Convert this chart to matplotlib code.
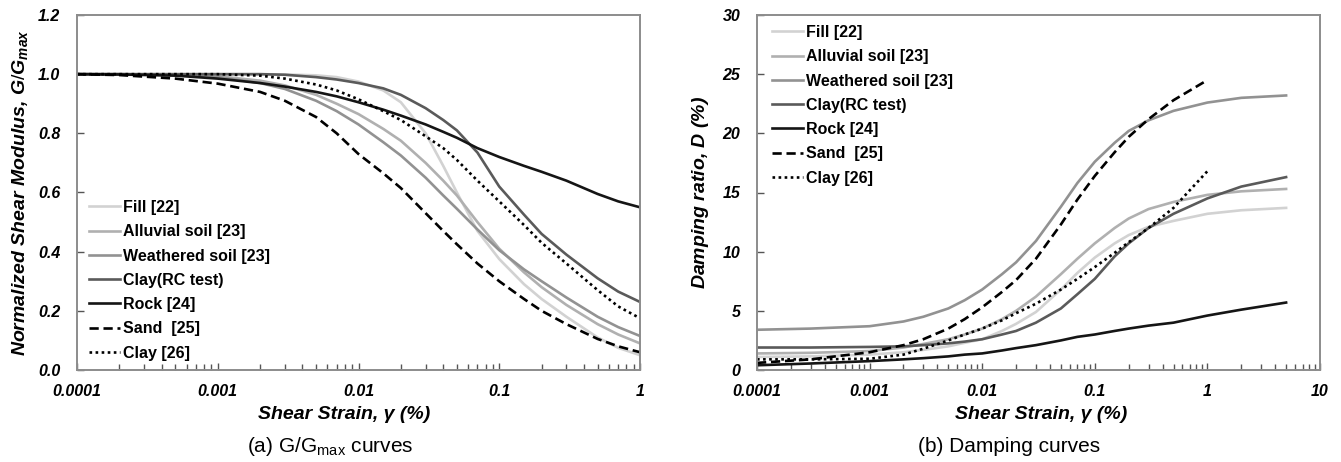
import numpy as np
import matplotlib
matplotlib.use("Agg")
import matplotlib.pyplot as plt
from matplotlib.ticker import FixedLocator, FixedFormatter, LogLocator, NullFormatter

plt.rcParams['font.family'] = ['Liberation Sans', 'DejaVu Sans']
plt.rcParams['mathtext.fontset'] = 'custom'
plt.rcParams['mathtext.rm'] = 'Liberation Sans'
plt.rcParams['mathtext.it'] = 'Liberation Sans:italic:bold'
plt.rcParams['mathtext.bf'] = 'Liberation Sans:bold'

labels = ["Fill [22]", "Alluvial soil [23]", "Weathered soil [23]", "Clay(RC test)",
          "Rock [24]", "Sand  [25]", "Clay [26]"]
colors = ["#d2d2d2", "#b0b0b0", "#929292", "#5a5a5a", "#151515", "#000000", "#000000"]
styles = ["-", "-", "-", "-", "-", (0, (3.5, 1.8)), (0, (1, 1.3))]

# (a) G/Gmax curves, strain in %
gx = [1e-4, 2e-4, 5e-4, 1e-3, 2e-3, 3e-3, 5e-3, 7e-3, 0.01, 0.015, 0.02, 0.03, 0.04, 0.05,
      0.07, 0.1, 0.15, 0.2, 0.3, 0.5, 0.7, 1]
g_fill = [1.0, 1.0, 1.0, 1.0, 1.0, 0.999, 0.996, 0.99, 0.975, 0.945, 0.905, 0.80, 0.69, 0.60,
          0.47, 0.375, 0.29, 0.24, 0.18, 0.11, 0.075, 0.05]
g_all = [1.0, 1.0, 0.998, 0.993, 0.978, 0.962, 0.93, 0.90, 0.865, 0.815, 0.775, 0.70, 0.64, 0.59,
         0.50, 0.41, 0.33, 0.28, 0.22, 0.155, 0.12, 0.09]
g_wea = [1.0, 1.0, 0.997, 0.99, 0.97, 0.95, 0.91, 0.875, 0.83, 0.77, 0.725, 0.65, 0.59, 0.545,
         0.475, 0.405, 0.34, 0.30, 0.245, 0.18, 0.145, 0.115]
g_crc = [1.0, 1.0, 1.0, 1.0, 1.0, 0.998, 0.99, 0.982, 0.97, 0.952, 0.93, 0.885, 0.845, 0.81,
         0.735, 0.62, 0.525, 0.46, 0.39, 0.31, 0.265, 0.23]
g_rock = [1.0, 0.999, 0.995, 0.985, 0.97, 0.958, 0.94, 0.925, 0.905, 0.88, 0.86, 0.83, 0.805, 0.785,
          0.75, 0.72, 0.69, 0.67, 0.64, 0.595, 0.57, 0.55]
g_sand = [1.0, 0.997, 0.985, 0.968, 0.94, 0.91, 0.855, 0.80, 0.73, 0.665, 0.615, 0.53, 0.47, 0.425,
          0.36, 0.30, 0.24, 0.20, 0.155, 0.105, 0.08, 0.06]
g_c26 = [1.0, 1.0, 1.0, 1.0, 0.995, 0.985, 0.965, 0.945, 0.915, 0.875, 0.845, 0.79, 0.75, 0.71,
         0.64, 0.57, 0.49, 0.43, 0.36, 0.27, 0.215, 0.175]

# (b) Damping curves, D in %
dx = [1e-4, 3e-4, 1e-3, 2e-3, 3e-3, 5e-3, 7e-3, 0.01, 0.015, 0.02, 0.03, 0.05, 0.07, 0.1,
      0.15, 0.2, 0.3, 0.5, 1, 2, 5]
d_fill = [1.1, 1.15, 1.3, 1.5, 1.7, 2.0, 2.3, 2.6, 3.3, 3.9, 4.9, 6.8, 8.2, 9.5,
          10.7, 11.4, 12.1, 12.6, 13.2, 13.5, 13.7]
d_all = [1.4, 1.45, 1.6, 1.9, 2.2, 2.6, 3.0, 3.5, 4.3, 5.0, 6.2, 8.1, 9.4, 10.7,
         12.0, 12.8, 13.6, 14.2, 14.8, 15.1, 15.3]
d_wea = [3.4, 3.5, 3.7, 4.1, 4.5, 5.2, 5.9, 6.8, 8.1, 9.1, 10.9, 13.8, 15.8, 17.6,
         19.2, 20.2, 21.1, 21.9, 22.6, 23.0, 23.2]
d_crc = [1.9, 1.9, 1.95, 2.0, 2.1, 2.25, 2.4, 2.6, 3.0, 3.3, 4.0, 5.2, 6.4, 7.7,
         9.6, 10.7, 12.0, 13.2, 14.5, 15.5, 16.3]
d_rock = [0.4, 0.55, 0.75, 0.9, 1.0, 1.15, 1.3, 1.4, 1.65, 1.85, 2.1, 2.5, 2.8, 3.0,
          3.3, 3.5, 3.75, 4.0, 4.6, 5.1, 5.7]
dx_short = dx[:19]
d_sand = [0.6, 0.9, 1.5, 2.1, 2.6, 3.5, 4.3, 5.3, 6.6, 7.6, 9.4, 12.3, 14.4, 16.4,
          18.4, 19.7, 21.2, 22.8, 24.5]
d_c26 = [0.9, 0.9, 0.95, 1.3, 1.8, 2.5, 3.0, 3.5, 4.2, 4.8, 5.6, 6.8, 7.7, 8.7,
         9.9, 10.8, 12.0, 13.7, 16.8]

g_series = [(gx, g_fill), (gx, g_all), (gx, g_wea), (gx, g_crc), (gx, g_rock), (gx, g_sand), (gx, g_c26)]
d_series = [(dx, d_fill), (dx, d_all), (dx, d_wea), (dx, d_crc), (dx, d_rock),
            (dx_short, d_sand), (dx_short, d_c26)]

W, H = 1341, 462
fig = plt.figure(figsize=(W / 100, H / 100), dpi=100)
axL = fig.add_axes([77 / W, 1 - 370 / H, 563 / W, 355 / H])
axR = fig.add_axes([757 / W, 1 - 370 / H, 563 / W, 355 / H])

labfont = dict(fontsize=14, fontweight='bold', fontstyle='italic')


def style_axis(ax, xmax, xticks, xlabels):
    ax.set_xscale('log')
    ax.set_xlim(1e-4, xmax)
    ax.xaxis.set_major_locator(FixedLocator(xticks))
    ax.xaxis.set_major_formatter(FixedFormatter(xlabels))
    ax.xaxis.set_minor_locator(LogLocator(base=10, subs=np.arange(2, 10)))
    ax.xaxis.set_minor_formatter(NullFormatter())
    for s in ax.spines.values():
        s.set_color('#8c8c8c')
        s.set_linewidth(1.4)
    ax.tick_params(which='both', direction='in', color='#555555', width=1)
    ax.tick_params(which='major', length=5)
    ax.tick_params(which='minor', length=4)
    ax.tick_params(axis='x', which='major', pad=10)
    ax.tick_params(axis='y', which='major', pad=12)
    for t in ax.get_xticklabels() + ax.get_yticklabels():
        t.set_fontsize(11.5)
        t.set_fontweight('bold')
        t.set_fontstyle('italic')


for (x, y), c, ls, lab in zip(g_series, colors, styles, labels):
    axL.plot(x, y, color=c, linestyle=ls, lw=1.9, label=lab)
for (x, y), c, ls, lab in zip(d_series, colors, styles, labels):
    axR.plot(x, y, color=c, linestyle=ls, lw=1.9, label=lab)

axL.set_ylim(0, 1.2)
axL.set_yticks(np.arange(0, 1.21, 0.2))
axL.set_yticklabels([f"{v:.1f}" for v in np.arange(0, 1.21, 0.2)])
style_axis(axL, 1, [1e-4, 1e-3, 1e-2, 1e-1, 1], ["0.0001", "0.001", "0.01", "0.1", "1"])

axR.set_ylim(0, 30)
axR.set_yticks(range(0, 31, 5))
axR.set_yticklabels([str(v) for v in range(0, 31, 5)])
style_axis(axR, 10, [1e-4, 1e-3, 1e-2, 1e-1, 1, 10], ["0.0001", "0.001", "0.01", "0.1", "1", "10"])

axL.set_xlabel("Shear Strain, γ (%)", **labfont)
axR.set_xlabel("Shear Strain, γ (%)", **labfont)
axL.xaxis.set_label_coords(0.474, -0.102)
axR.xaxis.set_label_coords(0.505, -0.102)
axL.set_ylabel("Normalized Shear Modulus, $G/G_{max}$", labelpad=6, **labfont)
axR.set_ylabel("Damping ratio, $D$ (%)", labelpad=8, **labfont)

legfont = dict(size=11.5, weight='bold')
axL.legend(loc='upper left', bbox_to_anchor=(89 / W, 1 - 200 / H), bbox_transform=fig.transFigure,
           frameon=False, prop=legfont, handlelength=1.95, handletextpad=0.2,
           labelspacing=0.58, borderpad=0, borderaxespad=0)
axR.legend(loc='upper left', bbox_to_anchor=(772 / W, 1 - 25 / H), bbox_transform=fig.transFigure,
           frameon=False, prop=legfont, handlelength=1.95, handletextpad=0.2,
           labelspacing=0.58, borderpad=0, borderaxespad=0)

fig.text(330 / W, 1 - 446 / H, "(a) G/G$_{\\mathrm{max}}$ curves", ha='center', va='center', fontsize=15)
fig.text(1009 / W, 1 - 446 / H, "(b) Damping curves", ha='center', va='center', fontsize=15)

fig.savefig("out.png", dpi=100)
